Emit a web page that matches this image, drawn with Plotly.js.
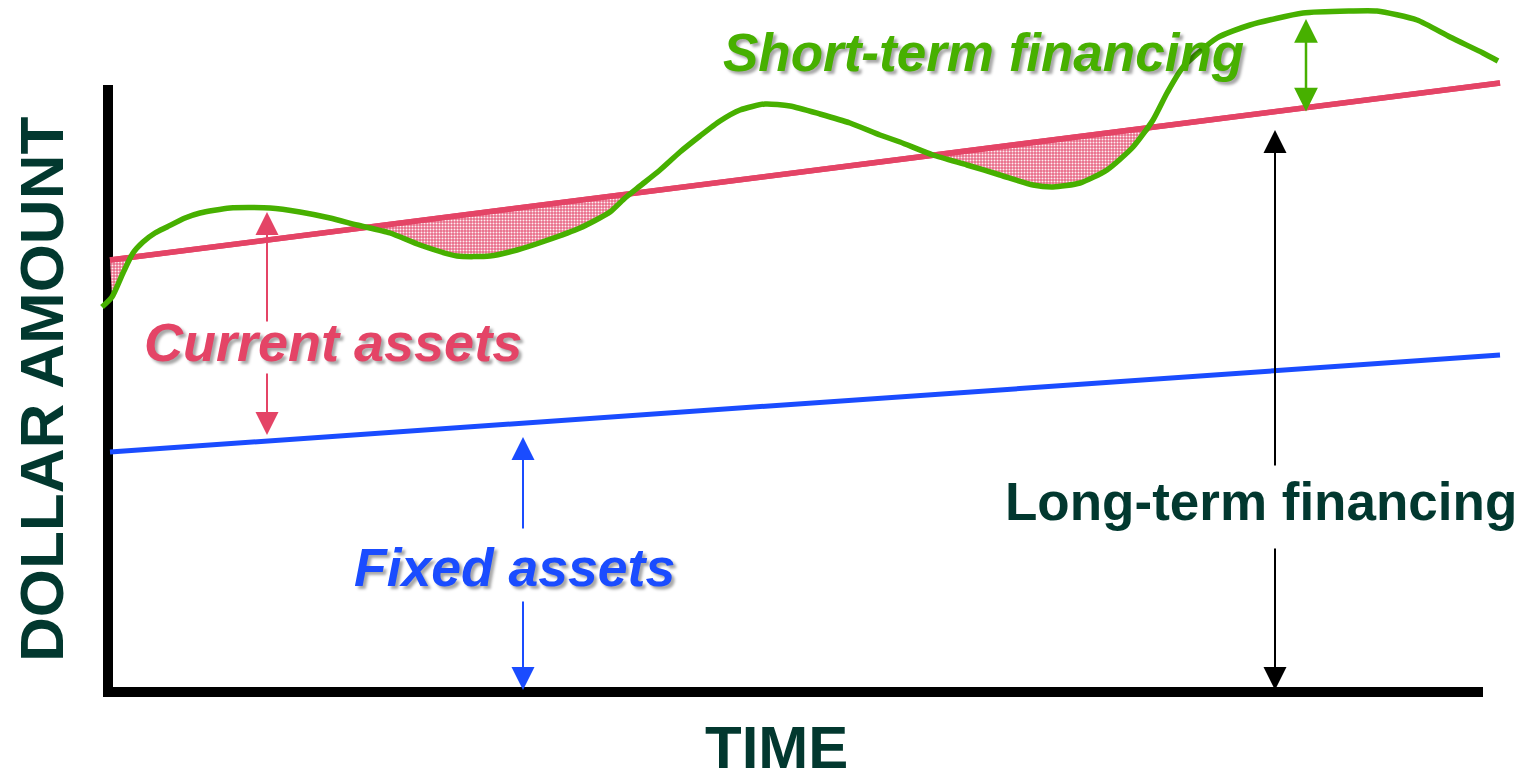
<!DOCTYPE html>
<html>
<head>
<meta charset="utf-8">
<script src="https://cdn.plot.ly/plotly-3.0.1.min.js"></script>
<style>html,body{margin:0;padding:0;background:#fff;}#chart{width:1528px;height:779px;}</style>
</head>
<body>
<div id="chart"></div>
<script>
// Time (x) and dollar amount (y), origin at the axes corner
const totalTime = [-6,4,15,25,35,47,59,77,92,122,162,192,222,249,282,312,349,382,409,437,472,502,517,532,552,572,592,612,632,657,682,712,742,772,792,825,859,892,925,945,972,999,1025,1045,1059,1075,1109,1142,1195,1242,1269,1309,1342,1375,1390];
const totalAssets = [385,395,419,439,450,459,465,474,479,484,484,480,474,467,459,447,436,436,442,451,464,480,494,506,522,540,556,571,582,588,586,578,569,557,550,537,527,517,507,505,509,522,545,572,599,625,654,667,679,681,681,672,655,639,631];
const lineTime = [2, 1392];
const longTermLevel = [432, 609];   // permanent current + fixed assets
const fixedLevel = [240, 337];      // fixed assets

const green = '#47b000', red = '#e44466', blue = '#1a4cff', dark = '#02382f';

// red line value at a given time (linear between its two ends)
function redAt(t){
  return longTermLevel[0] + (longTermLevel[1]-longTermLevel[0])*(t-lineTime[0])/(lineTime[1]-lineTime[0]);
}
const fillX = [], fillY = [];
for (let i=0;i<totalTime.length;i++){
  if (totalTime[i] < lineTime[0]) continue;
  fillX.push(totalTime[i]);
  fillY.push(Math.min(totalAssets[i], redAt(totalTime[i])));
}

const traces = [
  {x: lineTime, y: longTermLevel, mode:'lines', line:{color:red, width:5.5}, hoverinfo:'skip'},
  {x: fillX, y: fillY, mode:'lines', line:{width:0, color:'rgba(0,0,0,0)'}, fill:'tonexty',
   fillcolor:'#ec8098',
   fillpattern:{shape:'.', fgcolor:'#fdf0f3', bgcolor:'#e96b88', size:3, solidity:0.35},
   hoverinfo:'skip'},
  {x: lineTime, y: longTermLevel, mode:'lines', line:{color:red, width:5.5}, hoverinfo:'skip'},
  {x: lineTime, y: fixedLevel, mode:'lines', line:{color:blue, width:5}, hoverinfo:'skip'},
  {x: totalTime, y: totalAssets, mode:'lines', line:{color:green, width:5.5, shape:'spline', smoothing:0.6}, hoverinfo:'skip'}
];

const shadow = 'rgba(0,0,0,0.35) 3px 3px 3px';
function arrow(x, yHead, yTail, color, w, size, both){
  return {x:x, y:yHead, ax:x, ay:yTail, xref:'x', yref:'y', axref:'x', ayref:'y',
    text:'', showarrow:true, arrowhead:2, arrowsize:size, arrowwidth:w, arrowcolor:color,
    arrowside: both ? 'end+start' : 'end', standoff:0, startstandoff:0};
}
const annotations = [
  arrow(159, 480, 369, red, 2, 2.3),
  arrow(159, 257, 320, red, 2, 2.3),
  arrow(415, 255, 162, blue, 2, 2.3),
  arrow(415, 2, 92, blue, 2, 2.3),
  arrow(1167, 562, 225, 'black', 2, 2.3),
  arrow(1167, 2, 145, 'black', 2, 2.3),
  arrow(1198, 673, 579, green, 2.5, 1.9, true),
  {x:875, y:640, xref:'x', yref:'y', text:'Short-term financing', showarrow:false,
   font:{family:'Liberation Sans, Arial, sans-serif', size:53, color:green, weight:'bold', style:'italic', shadow:shadow}},
  {x:225, y:350, xref:'x', yref:'y', text:'Current assets', showarrow:false,
   font:{family:'Liberation Sans, Arial, sans-serif', size:54, color:red, weight:'bold', style:'italic', shadow:shadow}},
  {x:406, y:125, xref:'x', yref:'y', text:'Fixed assets', showarrow:false,
   font:{family:'Liberation Sans, Arial, sans-serif', size:53.5, color:blue, weight:'bold', style:'italic', shadow:shadow}},
  {x:1153, y:191, xref:'x', yref:'y', text:'Long-term financing', showarrow:false,
   font:{family:'Liberation Sans, Arial, sans-serif', size:53, color:dark, weight:'bold'}},
  {x:-67, y:302, xref:'x', yref:'y', text:'DOLLAR AMOUNT', showarrow:false, textangle:-90,
   font:{family:'Liberation Sans, Arial, sans-serif', size:62, color:dark, weight:'bold'}},
  {x:668, y:-55, xref:'x', yref:'y', text:'TIME', showarrow:false,
   font:{family:'Liberation Sans, Arial, sans-serif', size:60, color:dark, weight:'bold'}}
];

const shapes = [
  {type:'line', xref:'x', yref:'y', x0:0, x1:0, y0:607, y1:-5, line:{color:'black', width:10}, layer:'below'},
  {type:'line', xref:'x', yref:'y', x0:-5, x1:1375, y0:0, y1:0, line:{color:'black', width:10}, layer:'below'}
];

const layout = {
  width:1528, height:779,
  margin:{l:0, r:0, t:0, b:0, pad:0},
  paper_bgcolor:'white', plot_bgcolor:'white',
  showlegend:false,
  xaxis:{range:[-108, 1420], visible:false, fixedrange:true},
  yaxis:{range:[-87, 692], visible:false, fixedrange:true},
  shapes:shapes,
  annotations:annotations
};
Plotly.newPlot('chart', traces, layout, {displayModeBar:false, staticPlot:true});
</script>
</body>
</html>
